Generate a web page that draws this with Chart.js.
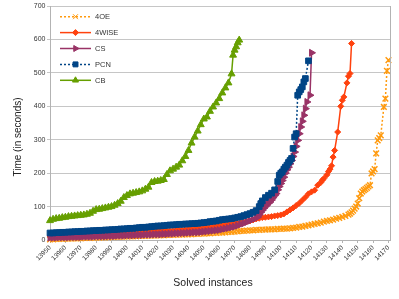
<!DOCTYPE html>
<html><head><meta charset="utf-8">
<script src="https://cdn.jsdelivr.net/npm/chart.js@4"></script>
<style>html,body{margin:0;padding:0;background:#fff}#wrap{width:399px;height:299px}</style>
</head><body><div id="wrap"><canvas id="c" width="399" height="299"></canvas></div>
<script>
const seriesNames = ['4OE', '4WISE', 'CS', 'PCN', 'CB'];
const xTickValues = [13950,13960,13970,13980,13990,14000,14010,14020,14030,14040,14050,14060,14070,14080,14090,14100,14110,14120,14130,14140,14150,14160,14170];
const yTickValues = [0,100,200,300,400,500,600,700];
const xTitle = 'Solved instances';
const yTitle = 'Time (in seconds)';

const oeX = [13950,13952,13954,13956,13958,13960,13962,13964,13966,13968,13970,13972,13974,13976,13978,13980,13982,13984,13986,13988,13990,13992,13994,13996,13998,14000,14002,14004,14006,14008,14010,14012,14014,14016,14018,14020,14022,14024,14026,14028,14030,14032,14034,14036,14038,14040,14042,14044,14046,14048,14050,14052,14054,14056,14058,14060,14062,14064,14066,14068,14070,14072,14074,14076,14078,14080,14082,14084,14086,14088,14090,14092,14094,14096,14098,14100,14102,14104,14106,14108,14110,14112,14114,14116,14118,14120,14122,14124,14126,14128,14130,14132,14134,14136,14138,14140,14142,14144,14145,14146,14147,14148,14149,14150,14151,14152,14153,14154,14155,14156,14157,14158,14159,14160,14161,14162,14163,14164,14165,14167,14168,14169,14170];
const oeY = [2,2,3,3,3,4,4,4,5,5,5,6,6,6,7,7,7,8,8,8,9,9,9,10,10,10,11,11,11,12,12,12,13,13,13,14,14,14,15,15,15,16,16,16,17,17,17,18,18,19,19,20,20,21,21,22,22,23,24,24,25,26,27,27,28,29,29,30,30,31,31,32,32,32,33,33,34,34,35,36,37,39,40,42,44,46,48,50,52,55,57,59,61,64,66,69,72,76,79,83,88,94,100,109,125,139,145,149,152,156,160,164,199,205,212,259,298,305,313,398,423,506,538];

const wiseX = [13950,13952,13954,13956,13958,13960,13962,13964,13966,13968,13970,13972,13974,13976,13978,13980,13982,13984,13986,13988,13990,13992,13994,13996,13998,14000,14002,14004,14006,14008,14010,14012,14014,14016,14018,14020,14022,14024,14026,14028,14030,14032,14034,14036,14038,14040,14042,14044,14046,14048,14050,14052,14054,14056,14058,14060,14062,14064,14066,14068,14070,14072,14074,14076,14078,14080,14082,14084,14086,14088,14090,14092,14094,14096,14098,14100,14102,14104,14106,14108,14110,14112,14114,14116,14118,14120,14122,14124,14126,14127,14128,14130,14131,14132,14133,14134,14135,14137,14139,14140,14141,14143,14144,14145,14146];
const wiseY = [12,12,12,13,13,13,14,14,14,15,15,15,16,16,16,17,17,17,18,18,18,19,19,20,20,21,21,22,22,23,23,24,24,25,25,26,26,27,27,28,28,29,30,30,31,32,33,33,34,35,36,37,38,40,42,44,45,46,47,48,49,50,52,53,55,57,60,63,65,67,68,69,70,72,73,75,78,84,90,96,103,110,119,128,138,144,149,164,172,179,184,195,205,212,222,248,268,323,400,418,428,470,490,498,588];

const csX = [13950,13952,13954,13956,13958,13960,13962,13964,13966,13968,13970,13972,13974,13976,13978,13980,13982,13984,13986,13988,13990,13992,13994,13996,13998,14000,14002,14004,14006,14008,14010,14012,14014,14016,14018,14020,14022,14024,14026,14028,14030,14032,14034,14036,14038,14040,14042,14044,14046,14048,14050,14052,14054,14056,14058,14060,14062,14064,14066,14068,14070,14072,14074,14076,14078,14080,14082,14084,14085,14086,14087,14088,14089,14090,14091,14092,14093,14094,14095,14096,14097,14098,14099,14100,14101,14102,14103,14104,14105,14106,14107,14108,14109,14110,14111,14112,14113,14114,14115,14116,14117,14119,14120];
const csY = [7,7,7,8,8,8,8,9,9,9,9,10,10,10,10,11,11,11,11,12,12,12,13,13,13,14,14,14,15,15,15,16,16,16,17,17,17,18,18,19,19,20,20,21,21,22,22,23,23,24,25,26,27,28,29,30,32,34,36,38,40,43,47,50,54,58,62,66,69,76,83,89,95,100,105,110,114,120,127,133,139,150,160,169,178,188,200,210,218,228,238,250,263,280,298,318,338,355,373,393,413,433,560];

const pcnX = [13950,13952,13954,13956,13958,13960,13962,13964,13966,13968,13970,13972,13974,13976,13978,13980,13982,13984,13986,13988,13990,13992,13994,13996,13998,14000,14002,14004,14006,14008,14010,14012,14014,14016,14018,14020,14022,14024,14026,14028,14030,14032,14034,14036,14038,14040,14042,14044,14046,14048,14050,14052,14054,14056,14058,14060,14062,14064,14066,14068,14070,14072,14074,14076,14078,14080,14082,14084,14086,14087,14088,14090,14092,14094,14096,14098,14099,14100,14101,14102,14103,14104,14105,14106,14107,14108,14109,14110,14111,14112,14113,14114,14115,14116,14118];
const pcnY = [21,21,22,22,23,23,24,24,25,25,26,26,27,27,28,28,29,29,30,30,31,31,32,33,33,34,35,35,36,37,38,38,39,40,41,42,42,43,44,45,45,46,47,47,48,48,49,49,50,51,52,53,55,56,57,59,61,62,63,64,66,68,70,73,76,79,83,88,100,109,117,127,134,140,150,175,194,200,204,212,218,224,232,238,244,274,308,318,433,443,450,458,473,483,536];

const cbX = [13950,13952,13954,13956,13958,13960,13962,13964,13966,13968,13970,13972,13974,13976,13978,13980,13982,13984,13986,13988,13990,13992,13994,13996,13998,14000,14002,14004,14006,14008,14010,14012,14014,14016,14018,14020,14022,14024,14026,14028,14030,14032,14034,14036,14038,14040,14042,14044,14046,14048,14050,14052,14054,14056,14058,14060,14062,14064,14066,14068,14069,14070,14071,14072,14073];
const cbY = [58,62,64,65,67,68,70,71,72,73,74,75,77,80,86,91,92,94,96,98,100,104,109,116,127,133,138,140,142,144,147,152,158,172,175,176,178,181,196,207,212,218,224,237,250,268,290,308,326,345,362,368,385,398,410,423,440,455,470,497,553,568,578,590,598];

const colors = ['#ff9a0e', '#ff420e', '#993366', '#004586', '#669f00'];
const styles = [
  {pointStyle:'crossRot', radius:4, rotation:0, dash:[2,2]},
  {pointStyle:'rectRot', radius:3, rotation:0, dash:[]},
  {pointStyle:'triangle', radius:4, rotation:90, dash:[]},
  {pointStyle:'rect', radius:4, rotation:0, dash:[2,2]},
  {pointStyle:'triangle', radius:4, rotation:0, dash:[]}
];
const xs = [oeX, wiseX, csX, pcnX, cbX];
const ys = [oeY, wiseY, csY, pcnY, cbY];

const datasets = seriesNames.map((name, i) => ({
  label: name,
  data: xs[i].map((x, j) => ({x: x, y: ys[i][j]})),
  borderColor: colors[i],
  backgroundColor: colors[i],
  borderWidth: 1.5,
  borderDash: styles[i].dash,
  pointStyle: styles[i].pointStyle,
  pointRadius: styles[i].radius,
  pointRotation: styles[i].rotation,
  pointBorderWidth: i === 0 ? 1.5 : 1,
  pointBackgroundColor: colors[i],
  pointBorderColor: colors[i],
  tension: 0,
  clip: false,
  order: seriesNames.length - i
}));

function drawMarker(ctx, style, radius, rotation, x, y) {
  if (Chart.helpers && Chart.helpers.drawPoint) {
    Chart.helpers.drawPoint(ctx, {pointStyle: style, radius: radius, rotation: rotation, borderWidth: 1}, x, y);
    return;
  }
  ctx.beginPath(); ctx.arc(x, y, radius, 0, Math.PI * 2); ctx.fill(); ctx.stroke();
}

const decorPlugin = {
  id: 'decor',
  afterDraw(chart) {
    const ctx = chart.ctx;
    const a = chart.chartArea;
    ctx.save();
    ctx.strokeStyle = '#b3b3b3';
    ctx.lineWidth = 1;
    ctx.beginPath();
    ctx.moveTo(Math.round(a.right) + 0.5, a.top);
    ctx.lineTo(Math.round(a.right) + 0.5, a.bottom);
    ctx.stroke();
    const lx0 = 60, lx1 = 91, ly0 = 16.7, ldy = 15.9;
    chart.data.datasets.forEach((ds, i) => {
      const y = ly0 + i * ldy;
      ctx.strokeStyle = ds.borderColor;
      ctx.fillStyle = ds.borderColor;
      ctx.lineWidth = 1.5;
      ctx.setLineDash(ds.borderDash || []);
      ctx.beginPath(); ctx.moveTo(lx0, y); ctx.lineTo(lx1, y); ctx.stroke();
      ctx.setLineDash([]);
      ctx.lineWidth = 1;
      drawMarker(ctx, ds.pointStyle, Math.min(ds.pointRadius, 3.5), ds.pointRotation, (lx0 + lx1) / 2, y);
      ctx.fillStyle = '#333';
      ctx.font = '7.5px "Liberation Sans", Arial, sans-serif';
      ctx.textAlign = 'left';
      ctx.textBaseline = 'middle';
      ctx.fillText(ds.label, 95, y + 0.5);
    });
    ctx.fillStyle = '#222';
    ctx.textAlign = 'center';
    ctx.textBaseline = 'middle';
    ctx.font = '10.5px "Liberation Sans", Arial, sans-serif';
    ctx.fillText(xTitle, 213, 283);
    ctx.translate(18, 137);
    ctx.rotate(-Math.PI / 2);
    ctx.font = '10px "Liberation Sans", Arial, sans-serif';
    ctx.fillText(yTitle, 0, 0);
    ctx.restore();
  }
};

new Chart(document.getElementById('c'), {
  type: 'line',
  data: {datasets: datasets},
  options: {
    responsive: false,
    animation: false,
    devicePixelRatio: 1,
    layout: {padding: {top: 6, right: 9, left: 0, bottom: 0}},
    plugins: {legend: {display: false}, tooltip: {enabled: false}},
    scales: {
      x: {
        type: 'linear',
        min: 13950,
        max: 14171,
        afterBuildTicks: s => { s.ticks = xTickValues.map(v => ({value: v})); },
        afterFit: s => { s.height = 59; },
        grid: {drawOnChartArea: false, drawTicks: true, tickLength: 3, color: '#b3b3b3'},
        border: {color: '#b3b3b3'},
        ticks: {
          autoSkip: false, maxRotation: 45, minRotation: 45, padding: 1,
          color: '#333', font: {size: 6.5, family: '"Liberation Sans", Arial, sans-serif'},
          callback: v => String(v)
        }
      },
      y: {
        type: 'linear',
        min: 0,
        max: 700,
        afterBuildTicks: s => { s.ticks = yTickValues.map(v => ({value: v})); },
        afterFit: s => { s.width = 50; },
        grid: {color: '#c6c6c6', tickLength: 3},
        border: {color: '#b3b3b3'},
        ticks: {
          padding: 1.5, color: '#333', font: {size: 7, family: '"Liberation Sans", Arial, sans-serif'},
          callback: v => String(v)
        }
      }
    }
  },
  plugins: [decorPlugin]
});
</script></body></html>
